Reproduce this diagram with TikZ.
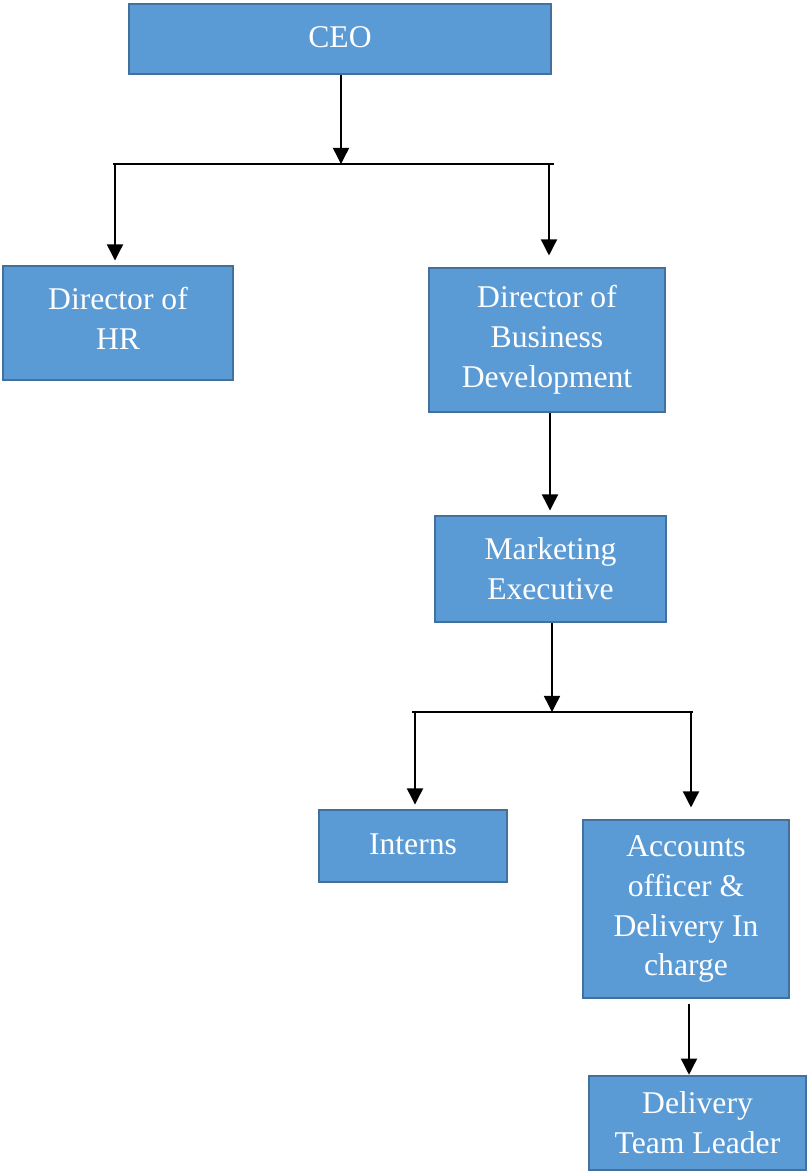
\documentclass[tikz,border=0pt]{standalone}
\usepackage{fontspec}
\setmainfont{Liberation Serif}
\usetikzlibrary{arrows.meta,calc}
\definecolor{boxblue}{RGB}{91,155,213}
\definecolor{boxedge}{RGB}{65,113,156}
\tikzset{>={Triangle[width=11.5pt,length=11.5pt]}}

\begin{document}
\begin{tikzpicture}[
    x = 0.025cm, y = -0.025cm,
    box/.style = {draw = boxedge, fill = boxblue, line width = 1.8pt, text = white, align = center, inner sep = 0pt, font = \fontsize{22.5}{28.4}\selectfont},
    conn/.style = {line width = 1pt, ->, shorten > = 3pt},
    bar/.style = {line width = 1pt}
]
\useasboundingbox (0,0) rectangle (807,1172);

\node[box, minimum width = 10.55cm, minimum height = 1.75cm] (ceo) at (340, 39) {\raisebox{2.5pt}{CEO}};
\node[box, minimum width = 5.75cm, minimum height = 2.85cm, text depth = 7pt] (hr) at (118, 323) {Director of\\HR};
\node[box, minimum width = 5.9cm, minimum height = 3.6cm] (bizdev) at (547, 340) {Director of\\Business\\Development};
\node[box, minimum width = 5.775cm, minimum height = 2.65cm] (mkt) at (550.5, 569) {Marketing\\Executive};
\node[box, minimum width = 4.7cm, minimum height = 1.8cm] (interns) at (413, 846) {\raisebox{3pt}{Interns}};
\node[box, minimum width = 5.15cm, minimum height = 4.45cm] (acc) at (686, 909) {Accounts\\officer \&\\Delivery In\\charge};
\node[box, minimum width = 5.425cm, minimum height = 2.35cm] (lead) at (697.5, 1123) {Delivery\\Team Leader};

% first split
\coordinate (split1) at (341, 164);
\coordinate (bar1l) at (113, 164);
\coordinate (bar1r) at (554, 164);
\coordinate (leg1l) at (115, 164);
\coordinate (leg1r) at (549, 164);
\draw[bar] (bar1l) -- (bar1r);
\draw[conn, shorten > = 0pt] (ceo.south -| split1) -- (split1);
\draw[conn] (leg1l) -- (leg1l |- hr.north);
\draw[conn, shorten > = 8pt] (leg1r) -- (leg1r |- bizdev.north);

\draw[conn] ($(bizdev.south)+(3,0)$) -- ($(mkt.north)+(-0.5,0)$);

% second split
\coordinate (split2) at (552, 712);
\coordinate (bar2l) at (412, 712);
\coordinate (bar2r) at (693, 712);
\coordinate (leg2l) at (415, 712);
\coordinate (leg2r) at (691, 712);
\draw[bar] (bar2l) -- (bar2r);
\draw[conn, shorten > = 0pt] (mkt.south -| split2) -- (split2);
\draw[conn] (leg2l) -- (leg2l |- interns.north);
\draw[conn, shorten > = 8pt] (leg2r) -- (leg2r |- acc.north);

\draw[conn, shorten < = 3pt, shorten > = 0pt] ($(acc.south)+(3,0)$) -- ($(lead.north)+(-8.5,0)$);

\end{tikzpicture}
\end{document}
